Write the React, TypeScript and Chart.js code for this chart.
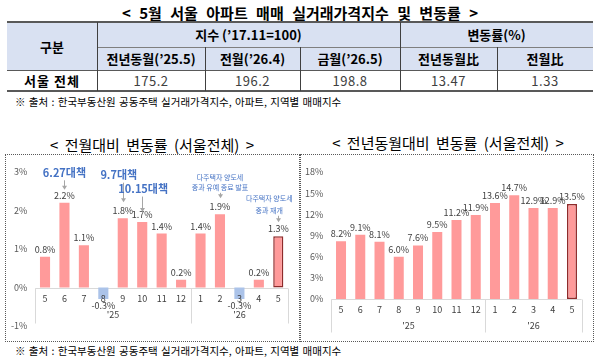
import React, { useEffect, useRef } from 'react';
import { Chart, registerables } from 'chart.js';

Chart.register(...registerables);

const FONT = "'Noto Sans CJK KR', 'Noto Sans', sans-serif";

// ---- table data ----
const tableTitle = '< 5월 서울 아파트 매매 실거래가격지수 및 변동률 >';
const groupHeader = '구분';
const indexGroupHeader = '지수 (’17.11=100)';
const rateGroupHeader = '변동률(%)';
const indexHeaders = ['전년동월(’25.5)', '전월(’26.4)', '금월(’26.5)'];
const rateHeaders = ['전년동월比', '전월比'];
const rowLabel = '서울 전체';
const rowValues = ['175.2', '196.2', '198.8', '13.47', '1.33'];
const sourceText = '※ 출처 : 한국부동산원 공동주택 실거래가격지수, 아파트, 지역별 매매지수';

// ---- chart data ----
const leftTitle = '< 전월대비 변동률 (서울전체) >';
const rightTitle = '< 전년동월대비 변동률 (서울전체) >';
const months = ['5', '6', '7', '8', '9', '10', '11', '12', '1', '2', '3', '4', '5'];
const yearLabels = ["'25", "'26"];
const yearStarts = [0, 8];
const momValues = [0.8, 2.2, 1.1, -0.3, 1.8, 1.7, 1.4, 0.2, 1.4, 1.9, -0.3, 0.2, 1.33];
const yoyValues = [8.2, 9.1, 8.1, 6.0, 7.6, 9.5, 11.2, 11.9, 13.6, 14.7, 12.9, 12.9, 13.47];
const momTicks = [-1, 0, 1, 2, 3];
const yoyTicks = [0, 3, 6, 9, 12, 15, 18];

type Note = {
  index: number;
  lines: string[];
  size: number;
  weight: number;
  firstAbove: number;
  lineGap: number;
  tipAbove: number;
  dx: number;
};

const momNotes: Note[] = [
  { index: 1, lines: ['6.27대책'], size: 11, weight: 700, firstAbove: 30, lineGap: 0, tipAbove: 13, dx: 0 },
  { index: 4, lines: ['9.7대책'], size: 11, weight: 700, firstAbove: 43, lineGap: 0, tipAbove: 16, dx: -4 },
  { index: 5, lines: ['10.15대책'], size: 11, weight: 700, firstAbove: 33, lineGap: 0, tipAbove: 10, dx: 1 },
  { index: 9, lines: ['다주택자 양도세', '중과 유예 종료 발표'], size: 7, weight: 400, firstAbove: 37, lineGap: 10, tipAbove: 16, dx: 0 },
  { index: 12, lines: ['다주택자 양도세', '중과 재개'], size: 7, weight: 400, firstAbove: 38, lineGap: 12, tipAbove: 14, dx: -9 },
];

const POS = '#ff9a9a';
const NEG = '#abc3e9';
const LAST_BORDER = '#8e2b2b';

function decoPlugin(notes: Note[], sepLen: number) {
  return {
    id: 'deco',
    beforeDatasetsDraw(chart: any) {
      const ctx = chart.ctx;
      const x = chart.scales.x;
      const y = chart.scales.y;
      const area = chart.chartArea;
      const zero = Math.round(y.getPixelForValue(0)) + 0.5;
      ctx.save();
      ctx.strokeStyle = '#d9d9d9';
      ctx.lineWidth = 1;
      ctx.beginPath();
      ctx.moveTo(area.left, zero);
      ctx.lineTo(area.right, zero);
      const seps = [area.left];
      for (let g = 1; g < yearStarts.length; g++) {
        const i = yearStarts[g];
        seps.push((x.getPixelForValue(i - 1) + x.getPixelForValue(i)) / 2);
      }
      seps.push(area.right);
      seps.forEach((sx) => {
        const px = Math.round(sx) + 0.5;
        ctx.moveTo(px, zero);
        ctx.lineTo(px, zero + sepLen);
      });
      ctx.stroke();
      ctx.restore();
    },
    afterDatasetsDraw(chart: any) {
      const ctx = chart.ctx;
      const x = chart.scales.x;
      const y = chart.scales.y;
      const zero = y.getPixelForValue(0);
      const meta = chart.getDatasetMeta(0);
      const values: number[] = chart.data.datasets[0].data;
      ctx.save();
      ctx.textAlign = 'center';
      ctx.textBaseline = 'middle';
      // month labels
      ctx.fillStyle = '#404040';
      ctx.font = `9px ${FONT}`;
      months.forEach((m, i) => ctx.fillText(m, x.getPixelForValue(i), zero + 11));
      // year labels
      yearLabels.forEach((lab, g) => {
        const s = yearStarts[g];
        const e = g + 1 < yearStarts.length ? yearStarts[g + 1] - 1 : months.length - 1;
        const cx = (x.getPixelForValue(s) + x.getPixelForValue(e)) / 2;
        ctx.fillText(lab, cx, zero + 27);
      });
      // data labels
      meta.data.forEach((bar: any, i: number) => {
        const v = values[i];
        const txt = v.toFixed(1) + '%';
        const ly = v >= 0 ? bar.y - 7.5 : bar.y + 7;
        ctx.fillText(txt, bar.x, ly);
      });
      // notes
      notes.forEach((n) => {
        const bar = meta.data[n.index];
        const top = bar.y;
        ctx.fillStyle = '#4472c4';
        ctx.font = `${n.weight} ${n.size}px ${FONT}`;
        let last = 0;
        n.lines.forEach((ln, k) => {
          last = top - n.firstAbove + k * n.lineGap;
          ctx.fillText(ln, bar.x + n.dx, last);
        });
        const tip = top - n.tipAbove;
        const start = last + n.size / 2 + 2;
        ctx.strokeStyle = '#a6a6a6';
        ctx.fillStyle = '#a6a6a6';
        ctx.lineWidth = 1;
        const ax = Math.round(bar.x) + 0.5;
        if (tip - 4 > start) {
          ctx.beginPath();
          ctx.moveTo(ax, start);
          ctx.lineTo(ax, tip - 3);
          ctx.stroke();
        }
        ctx.beginPath();
        ctx.moveTo(ax - 2.5, tip - 4);
        ctx.lineTo(ax + 2.5, tip - 4);
        ctx.lineTo(ax, tip);
        ctx.closePath();
        ctx.fill();
      });
      ctx.restore();
    },
  };
}

function makeConfig(p: {
  values: number[];
  ticks: number[];
  pad: { top: number; right: number; bottom: number };
  yWidth: number;
  notes: Note[];
  sepLen: number;
}): any {
  const n = p.values.length;
  return {
    type: 'bar',
    data: {
      labels: months,
      datasets: [
        {
          data: p.values,
          backgroundColor: p.values.map((v) => (v < 0 ? NEG : POS)),
          borderColor: p.values.map((_, i) => (i === n - 1 ? LAST_BORDER : 'rgba(0,0,0,0)')),
          borderWidth: p.values.map((_, i) => (i === n - 1 ? 1.5 : 0)),
          borderSkipped: false,
          barPercentage: 0.52,
          categoryPercentage: 1,
        },
      ],
    },
    options: {
      responsive: false,
      animation: false,
      devicePixelRatio: 1,
      layout: { padding: { left: 0, top: p.pad.top, right: p.pad.right, bottom: p.pad.bottom } },
      plugins: { legend: { display: false }, tooltip: { enabled: false }, title: { display: false } },
      scales: {
        x: { display: false },
        y: {
          min: p.ticks[0],
          max: p.ticks[p.ticks.length - 1],
          afterBuildTicks: (s: any) => {
            s.ticks = p.ticks.map((v) => ({ value: v }));
          },
          afterFit: (s: any) => {
            s.width = p.yWidth;
          },
          grid: { display: false, drawTicks: false },
          border: { display: false },
          ticks: {
            padding: 8,
            color: '#595959',
            font: { size: 9, family: FONT },
            callback: (v: any) => v + '%',
          },
        },
      },
    },
    plugins: [decoPlugin(p.notes, p.sepLen)],
  };
}

const abs = (s: React.CSSProperties): React.CSSProperties => ({ position: 'absolute', ...s });

const colX = [7, 97, 205, 300, 400, 497, 593];
const rowY = [22, 47, 70, 91];
const HEAD_BG = '#d9e1f2';

function Cell(props: { c0: number; c1: number; r0: number; r1: number; text: string; bold?: boolean; bg?: string; color?: string; spacing?: number }) {
  const left = colX[props.c0];
  const width = colX[props.c1 + 1] - left;
  const top = rowY[props.r0];
  const height = rowY[props.r1 + 1] - top;
  return (
    <div
      style={abs({
        left,
        top,
        width,
        height,
        background: props.bg || 'transparent',
        display: 'flex',
        alignItems: 'center',
        justifyContent: 'center',
        fontSize: 13,
        fontWeight: props.bold ? 700 : 400,
        color: props.color || '#000',
        letterSpacing: props.spacing || 0,
        whiteSpace: 'nowrap',
      })}
    >
      {props.text}
    </div>
  );
}

function HLine(props: { x0: number; x1: number; y: number; w: number; color: string }) {
  return <div style={abs({ left: props.x0, top: props.y - props.w / 2, width: props.x1 - props.x0, height: props.w, background: props.color })} />;
}
function VLine(props: { x: number; y0: number; y1: number; color: string }) {
  return <div style={abs({ left: props.x, top: props.y0, width: 1, height: props.y1 - props.y0, background: props.color })} />;
}

export default function App() {
  const leftRef = useRef<HTMLCanvasElement>(null);
  const rightRef = useRef<HTMLCanvasElement>(null);

  useEffect(() => {
    const c1 = new Chart(
      leftRef.current as HTMLCanvasElement,
      makeConfig({ values: momValues, ticks: momTicks, pad: { top: 17, right: 11, bottom: 15 }, yWidth: 29.3, notes: momNotes, sepLen: 35 })
    );
    const c2 = new Chart(
      rightRef.current as HTMLCanvasElement,
      makeConfig({ values: yoyValues, ticks: yoyTicks, pad: { top: 17, right: 11.4, bottom: 42 }, yWidth: 30.4, notes: [], sepLen: 33 })
    );
    return () => {
      c1.destroy();
      c2.destroy();
    };
  }, []);

  return (
    <div style={abs({ left: 0, top: 0, width: 600, height: 361, background: '#fff', fontFamily: FONT, overflow: 'hidden' })}>
      <div style={abs({ left: 0, top: 3, width: 600, height: 20, lineHeight: '20px', textAlign: 'center', fontSize: 15, fontWeight: 700, color: '#000', wordSpacing: 5 })}>
        {tableTitle}
      </div>

      {/* table */}
      <Cell c0={0} c1={0} r0={0} r1={1} text={groupHeader} bold bg={HEAD_BG} />
      <Cell c0={1} c1={3} r0={0} r1={0} text={indexGroupHeader} bold bg={HEAD_BG} />
      <Cell c0={4} c1={5} r0={0} r1={0} text={rateGroupHeader} bold bg={HEAD_BG} />
      {indexHeaders.map((h, i) => (
        <Cell key={'ih' + i} c0={1 + i} c1={1 + i} r0={1} r1={1} text={h} bold bg={HEAD_BG} />
      ))}
      {rateHeaders.map((h, i) => (
        <Cell key={'rh' + i} c0={4 + i} c1={4 + i} r0={1} r1={1} text={h} bold bg={HEAD_BG} />
      ))}
      <Cell c0={0} c1={0} r0={2} r1={2} text={rowLabel} bold spacing={1} />
      {rowValues.map((v, i) => (
        <Cell key={'rv' + i} c0={1 + i} c1={1 + i} r0={2} r1={2} text={v} color="#404040" spacing={0.5} />
      ))}
      <HLine x0={7} x1={593} y={22} w={2} color="#595959" />
      <HLine x0={97} x1={593} y={47} w={1} color="#7f7f7f" />
      <HLine x0={7} x1={593} y={70} w={1} color="#595959" />
      <HLine x0={7} x1={593} y={91} w={2} color="#595959" />
      <VLine x={97} y0={22} y1={91} color="#404040" />
      <VLine x={205} y0={47} y1={91} color="#404040" />
      <VLine x={300} y0={47} y1={91} color="#404040" />
      <VLine x={400} y0={22} y1={91} color="#404040" />
      <VLine x={497} y0={47} y1={91} color="#404040" />

      <div style={abs({ left: 15, top: 94, height: 16, lineHeight: '16px', fontSize: 10.5, color: '#000', whiteSpace: 'nowrap', wordSpacing: 1 })}>{sourceText}</div>

      {/* chart titles */}
      <div style={abs({ left: 2, top: 135, width: 300, height: 20, lineHeight: '20px', textAlign: 'center', fontSize: 15, color: '#000', whiteSpace: 'nowrap', wordSpacing: 3 })}>
        {leftTitle}
      </div>
      <div style={abs({ left: 298, top: 133, width: 300, height: 20, lineHeight: '20px', textAlign: 'center', fontSize: 15, color: '#000', whiteSpace: 'nowrap', wordSpacing: 3 })}>
        {rightTitle}
      </div>

      {/* chart boxes */}
      <div style={abs({ left: 5, top: 154, width: 295, height: 188, border: '1px dotted #595959', boxSizing: 'border-box' })}>
        <canvas ref={leftRef} width={293} height={186} style={abs({ left: 0, top: 0, width: 293, height: 186 })} />
      </div>
      <div style={abs({ left: 300, top: 154, width: 294, height: 188, border: '1px dotted #595959', boxSizing: 'border-box' })}>
        <canvas ref={rightRef} width={292} height={186} style={abs({ left: 0, top: 0, width: 292, height: 186 })} />
      </div>

      <div style={abs({ left: 15, top: 343, height: 16, lineHeight: '16px', fontSize: 10.5, color: '#000', whiteSpace: 'nowrap', wordSpacing: 1 })}>{sourceText}</div>
    </div>
  );
}
